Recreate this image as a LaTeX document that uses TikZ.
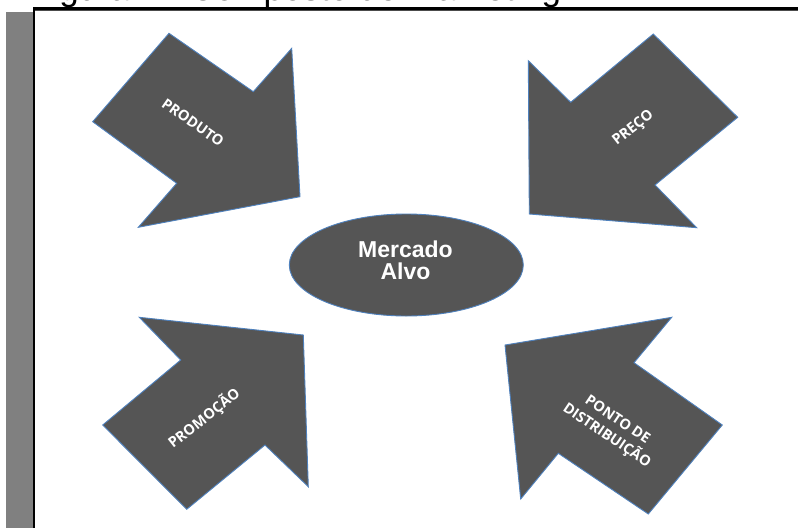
\documentclass[tikz,border=0pt]{standalone}
\usepackage{fontspec}
\setmainfont{Liberation Sans}
\newfontfamily\lblfont{Open Sans}
\usetikzlibrary{shapes.geometric}
\definecolor{arrowgray}{HTML}{555555}
\definecolor{edgeblue}{HTML}{4F81BD}
\definecolor{bargray}{HTML}{808080}
\begin{document}
\begin{tikzpicture}[x=1pt,y=-1pt,
  bigarrow/.style={fill=arrowgray, draw=edgeblue, line width=0.9pt, line join=miter},
  arrowlabel/.style={text=white, font=\lblfont\bfseries\fontsize{14.5}{19}\selectfont, align=center, inner sep=0pt},
  centertext/.style={text=white, font=\bfseries\fontsize{23}{22}\selectfont, align=center, inner sep=0pt}]
\useasboundingbox (0,0) rectangle (798,528);
\fill[white] (0,0) rectangle (798,528);
\begin{scope}
  \clip (0,0) rectangle (798,528);
  \node[anchor=base west, inner sep=0pt, font=\fontsize{35}{40}\selectfont] (title) at (30,0) {Figura 4 - Composto de marketing};
\end{scope}
% frame
\fill[bargray] (6,12) rectangle (33,528);
\fill[black] (33,6.7) rectangle (798,10);
\fill[black!70] (34,10) rectangle (798,11);
\fill[black] (33,6.7) rectangle (34.5,528);
% arrows
\draw[bigarrow] (92.7,121.7) -- (169,33.3) -- (253.3,91.7) -- (291.7,48.3) -- (300,196.7) -- (138.3,227.3) -- (176.7,183.3) -- cycle;
\draw[bigarrow] (653.3,34) -- (737.7,117.3) -- (655,185) -- (696.7,227.7) -- (529.3,214) -- (528.3,60.7) -- (570.7,102.3) -- cycle;
\draw[bigarrow] (139.3,317.3) -- (303.3,335) -- (308.3,486.7) -- (265,445) -- (186.7,509.3) -- (102.7,425) -- (180.7,360) -- cycle;
\draw[bigarrow] (505,345) -- (671.7,317.3) -- (634,362.7) -- (722.3,425) -- (648.3,514) -- (558.3,453.3) -- (520.7,499) -- cycle;
% labels
\node[arrowlabel, rotate=-35] (produto) at (193,122.5) {PRODUTO};
\node[arrowlabel, rotate=38] (preco) at (633.3,128.3) {PREÇO};
\node[arrowlabel, rotate=38] (promocao) at (204,418.3) {PROMOÇÃO};
\node[arrowlabel, rotate=-34] (ponto) at (611.7,428.3) {PONTO DE\\DISTRIBUIÇÃO};
% center
\node[ellipse, fill=arrowgray, draw=edgeblue, line width=0.9pt, minimum width=234pt, minimum height=102pt, inner sep=0pt] (alvo) at (406.3,265) {};
\node[centertext] (alvotext) at (405.5,260) {Mercado\\Alvo};
\end{tikzpicture}
\end{document}
